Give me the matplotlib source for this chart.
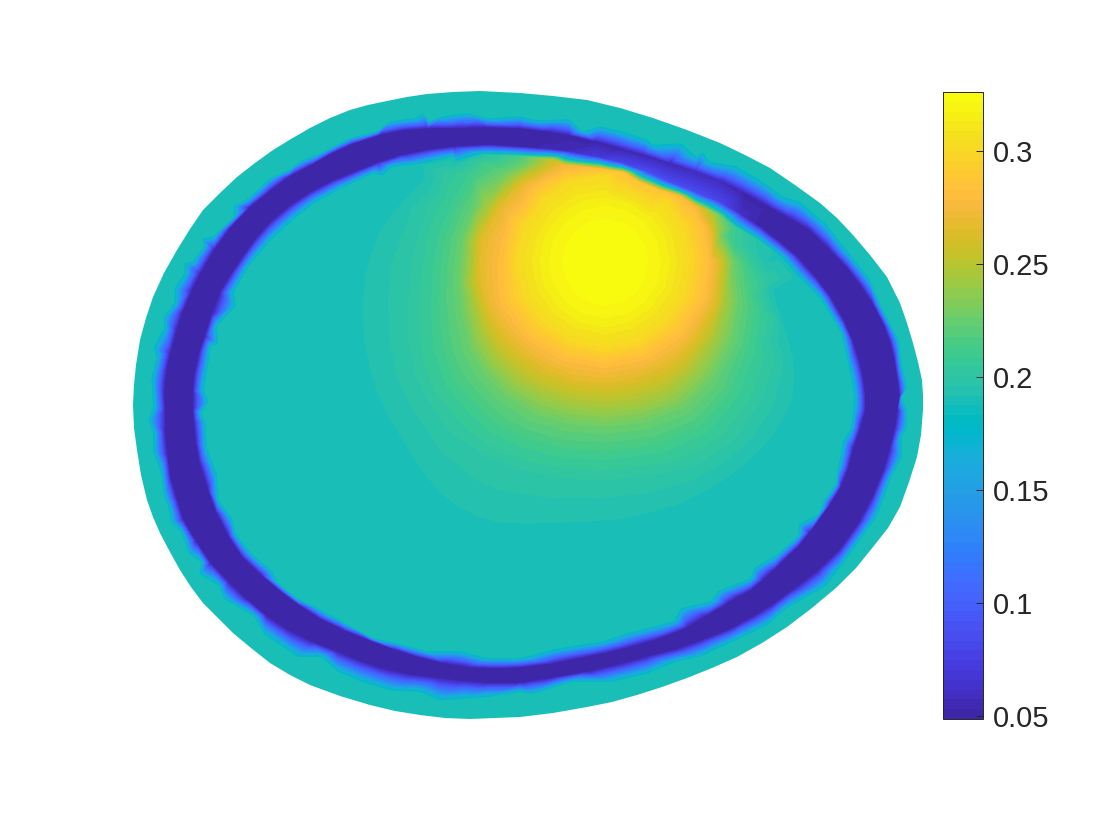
import matplotlib
matplotlib.use("Agg")
import numpy as np
import matplotlib.pyplot as plt
import matplotlib.tri as mtri
from matplotlib.cm import ScalarMappable
from matplotlib.colors import ListedColormap, Normalize
from matplotlib.patches import Polygon

plt.rcParams['font.family'] = ['Liberation Sans', 'DejaVu Sans']

# field values (positions are in picture pixels)
background = 0.19
dark = 0.05
v_min = 0.0487
v_max = 0.3261
cbar_ticks = [0.05, 0.1, 0.15, 0.2, 0.25, 0.3]
cbar_labels = ['0.05', '0.1', '0.15', '0.2', '0.25', '0.3']

outer_edge = [(133,405),(134,385),(136,365),(140,340),(146,318),(153,297),(164,273),(177,250),(190,229),(203,210),
              (220,193),(237,177),(255,163),(273,150),(291,139),(310,128),(330,118),(350,110),(368,105),(387,101),
              (407,97),(427,94),(453,92),(480,91),(500,92),(520,93),(553,96),(587,100),(620,108),(653,118),
              (687,130),(720,143),(745,155),(770,168),(795,185),(820,203),(837,218),(853,235),(870,255),(887,277),
              (900,303),(907,323),(913,343),(918,362),(922,380),(923,395),(923,410),(921,435),(917,457),(909,482),
              (900,507),(888,528),(873,547),(856,568),(837,587),(812,608),(787,627),(762,643),(737,657),(712,668),
              (687,678),(662,687),(637,695),(612,702),(587,707),(553,713),(520,717),(495,718),(470,719),(445,718),
              (420,715),(395,711),(370,705),(340,696),(310,685),(290,675),(270,663),(251,648),(233,633),(203,603),
              (191,587),(180,570),(170,552),(160,533),(153,517),(147,500),(141,475),(137,450),(134,428)]

ring_outer_jagged = [(152,407),(150,380),(155,357),(152,347),(163,327),(162,317),(173,303),(173,288),(183,273),
                     (183,262),(192,260),(203,245),(200,238),(213,235),(232,217),(233,205),(248,197),(268,178),
                     (290,168),(300,160),(320,152),(350,137),(377,130),(390,120),(413,117),(423,112),(430,120),
                     (443,115),(467,112),(487,117),(520,115),(537,119),(570,118),(583,130),(600,125),(623,130),
                     (647,138),(653,143),(683,142),(697,155),(703,150),(710,160),(737,165),(760,178),(783,195),
                     (800,200),(827,223),(850,252),(870,277),(883,307),(900,340),(902,360),(908,387),(903,397),
                     (908,410),(908,427),(903,437),(903,457),(893,477),(878,517),(857,547),(840,570),(827,587),
                     (787,610),(767,627),(733,643),(703,657),(677,663),(648,675),(613,683),(573,683),(533,695),
                     (520,693),(490,698),(467,700),(440,702),(417,693),(390,692),(360,683),(337,673),(320,658),
                     (297,658),(277,645),(263,635),(253,617),(237,608),(223,600),(218,587),(198,575),(200,563),
                     (188,555),(180,533),(170,523),(167,507),(163,498),(160,473),(152,453),(152,433),(147,420)]

ring_dark_out = [(165,410),(164,395),(165,380),(167,366),(170,353),(176,331),(183,310),(191,291),(200,273),(214,249),
                 (230,227),(249,207),(270,190),(289,176),(310,165),(331,153),(353,143),(378,135),(403,130),(428,128),
                 (453,128),(487,127),(520,128),(545,131),(570,135),(595,141),(620,148),(645,155),(670,163),(695,171),
                 (720,180),(745,193),(770,207),(790,218),(810,230),(829,248),(847,267),(861,285),(873,303),(883,322),
                 (890,340),(895,360),(898,380),(900,397),(898,410),(895,430),(890,450),(883,473),(873,497),(858,525),
                 (840,550),(818,571),(793,590),(774,604),(753,617),(729,630),(703,640),(675,650),(647,657),(617,665),
                 (587,672),(553,678),(520,683),(487,683),(462,681),(437,678),(412,675),(387,670),(362,662),(337,652),
                 (312,642),(287,630),(266,616),(247,600),(228,582),(210,563),(196,542),(183,520),(176,498),(170,477),
                 (167,455),(165,433)]

ring_dark_in = [(193,410),(193,391),(195,373),(199,355),(205,337),(212,315),(220,293),(231,275),(243,257),(256,239),
                (270,223),(289,207),(310,193),(331,182),(353,173),(378,163),(403,155),(428,150),(453,147),(487,145),
                (520,147),(545,149),(570,152),(595,157),(620,163),(645,172),(670,183),(695,193),(720,203),(741,215),
                (760,227),(779,242),(797,257),(814,276),(830,297),(843,320),(853,343),(859,362),(863,380),(865,397),
                (865,410),(860,427),(853,447),(848,467),(840,487),(830,503),(820,517),(809,532),(797,547),(785,558),
                (773,570),(762,580),(750,590),(738,596),(727,603),(707,615),(687,627),(670,634),(653,640),(628,647),
                (603,653),(578,658),(553,663),(520,667),(495,668),(470,667),(445,663),(420,657),(395,649),(370,640),
                (345,630),(320,618),(300,605),(280,590),(261,574),(243,557),(229,536),(217,513),(208,488),(200,463),
                (196,441),(194,420)]

ring_inner_jagged = [(203,413),(210,402),(205,390),(208,373),(212,347),(220,345),(218,327),(237,307),(235,293),
                     (250,267),(270,243),(295,220),(317,203),(347,187),(373,175),(383,177),(393,168),(420,165),
                     (453,158),(457,162),(483,155),(520,157),(553,160),(563,165),(603,170),(623,173),(637,182),
                     (657,190),(680,197),(697,207),(717,215),(733,227),(757,240),(780,257),(797,277),(820,300),
                     (840,333),(850,377),(853,397),(852,410),(850,427),(842,440),(837,467),(835,483),(823,500),
                     (818,513),(798,523),(797,535),(777,553),(753,567),(750,577),(717,590),(710,600),(680,607),
                     (673,620),(627,632),(603,640),(553,648),(520,657),(487,657),(462,650),(427,650),(397,642),
                     (373,637),(347,623),(337,617),(320,608),(297,597),(280,583),(273,570),(253,553),(237,533),
                     (233,517),(220,500),(218,473),(208,447),(207,423)]

# where the ring differs from its plain level, near the bright blob
dark_out_levels = {(645,155): 0.052, (670,163): 0.053, (695,171): 0.055, (720,180): 0.056}
dark_in_levels = {(545,149): 0.054, (570,152): 0.058, (595,157): 0.07, (620,163): 0.08, (645,172): 0.085,
                  (670,183): 0.085, (695,193): 0.085, (720,203): 0.08, (741,215): 0.06}
inner_levels = {(483,155): 0.195, (520,157): 0.215, (553,160): 0.255, (563,165): 0.27, (603,170): 0.285,
                (623,173): 0.285, (637,182): 0.285, (657,190): 0.285, (680,197): 0.28, (697,207): 0.27,
                (717,215): 0.235, (733,227): 0.21, (757,240): 0.195}

# contour lines of the bright blob: (level, points)
blob_peak = (605, 262, 0.3255)
blob_contours = [
    (0.325, [(638,262),(635,275),(628,285),(618,292),(605,295),(592,292),(582,285),(575,275),(572,262),
             (575,249),(582,239),(592,232),(605,229),(618,232),(628,239),(635,249)]),
    (0.316, [(665,262),(660,285),(647,304),(628,317),(605,322),(582,317),(563,304),(550,285),(545,262),
             (550,239),(563,220),(582,207),(605,202),(628,207),(647,220),(660,239)]),
    (0.3, [(690,262),(684,296),(665,322),(638,341),(605,348),(571,341),(543,322),(524,296),(517,262),
           (524,228),(543,200),(571,181),(605,176),(667,202),(684,228)]),
    (0.282, [(708,262),(702,298),(680,332),(645,355),(605,363),(565,356),(530,335),(505,302),(503,270),
             (507,240),(523,207),(543,183),(573,172),(703,228),(695,214)]),
    (0.265, [(712,232),(718,262),(715,300),(697,335),(668,365),(635,378),(605,383),(575,380),(545,369),
             (520,351),(500,330),(487,305),(481,280),(480,262),(482,240),(500,207),(523,183),(548,170)]),
    (0.245, [(716,232),(726,262),(724,300),(712,340),(690,372),(665,392),(635,402),(605,405),(575,402),
             (545,393),(518,378),(497,358),(483,333),(475,303),(472,262),(473,240),(489,207),(516,178),(540,165)]),
    (0.225, [(722,235),(734,262),(738,300),(732,340),(712,380),(685,408),(645,423),(605,428),(570,425),
             (535,415),(507,398),(485,375),(470,350),(462,315),(459,285),(460,262),(462,240),(475,207),
             (505,173),(525,164)]),
    (0.21, [(733,245),(750,270),(758,310),(752,350),(735,395),(705,430),(660,450),(605,457),(565,455),
            (525,445),(493,430),(470,408),(450,385),(437,350),(434,310),(436,270),(440,240),(453,207),
            (473,173),(483,163)]),
    (0.2, [(748,248),(768,280),(775,320),(775,360),(762,400),(735,440),(700,463),(655,475),(605,480),
           (560,478),(520,470),(483,455),(450,432),(430,405),(415,375),(408,340),(408,300),(412,262),
           (417,240),(427,207),(443,173)]),
    (0.1918, [(368,307),(369,290),(370,273),(376,252),(383,233),(396,213),(410,197),(426,180),
              (369,325),(370,340),(376,365),(383,387),(395,412),(410,437),(421,455),(433,473),(445,488),
              (460,500),(480,511),(500,517),(533,518),(567,517),(597,516),(627,513),(652,507),(677,500),
              (702,488),(727,473),(750,454),(770,433),(783,413),(790,393),(791,375),(790,357),(784,335),
              (777,313),(771,290),(766,262)]),
]

# parula, 64 steps
parula = [
    (0.2422,0.1504,0.6603),(0.2504,0.1650,0.7076),(0.2578,0.1818,0.7511),(0.2647,0.1978,0.7952),
    (0.2706,0.2147,0.8364),(0.2751,0.2342,0.8710),(0.2783,0.2559,0.8991),(0.2803,0.2782,0.9221),
    (0.2813,0.3006,0.9414),(0.2810,0.3228,0.9579),(0.2795,0.3447,0.9717),(0.2760,0.3667,0.9829),
    (0.2699,0.3892,0.9906),(0.2602,0.4123,0.9952),(0.2440,0.4358,0.9988),(0.2206,0.4603,0.9973),
    (0.1963,0.4847,0.9892),(0.1834,0.5074,0.9798),(0.1786,0.5289,0.9682),(0.1764,0.5499,0.9520),
    (0.1687,0.5703,0.9359),(0.1540,0.5902,0.9218),(0.1460,0.6091,0.9079),(0.1380,0.6276,0.8973),
    (0.1248,0.6459,0.8883),(0.1113,0.6635,0.8763),(0.0952,0.6798,0.8598),(0.0689,0.6948,0.8394),
    (0.0297,0.7082,0.8163),(0.0036,0.7203,0.7917),(0.0067,0.7312,0.7660),(0.0433,0.7411,0.7394),
    (0.0964,0.7500,0.7120),(0.1408,0.7584,0.6842),(0.1717,0.7670,0.6554),(0.1938,0.7758,0.6251),
    (0.2161,0.7843,0.5923),(0.2470,0.7918,0.5567),(0.2906,0.7973,0.5188),(0.3406,0.8008,0.4789),
    (0.3909,0.8029,0.4354),(0.4456,0.8024,0.3909),(0.5044,0.7993,0.3480),(0.5616,0.7942,0.3045),
    (0.6174,0.7876,0.2612),(0.6720,0.7793,0.2227),(0.7242,0.7698,0.1910),(0.7738,0.7598,0.1646),
    (0.8203,0.7498,0.1535),(0.8634,0.7406,0.1596),(0.9035,0.7330,0.1774),(0.9393,0.7288,0.2100),
    (0.9728,0.7298,0.2394),(0.9956,0.7434,0.2371),(0.9970,0.7659,0.2199),(0.9952,0.7861,0.1990),
    (0.9892,0.8086,0.1706),(0.9786,0.8329,0.1514),(0.9676,0.8568,0.1337),(0.9610,0.8792,0.1119),
    (0.9598,0.9061,0.0967),(0.9628,0.9373,0.0785),(0.9691,0.9606,0.0659),(0.9763,0.9831,0.0538),
]
cmap = ListedColormap(parula)
norm = Normalize(v_min, v_max)
levels = np.linspace(v_min, v_max, 65)


def stitch(a, b, off_a, off_b):
    # triangles between two closed curves running the same way round
    a = np.array(a + a[:1], dtype=float)
    b = np.array(b + b[:1], dtype=float)
    na, nb = len(a) - 1, len(b) - 1
    i = j = 0
    tris = []
    while i < na or j < nb:
        step_a = np.hypot(*(a[i + 1] - b[j])) if i < na else np.inf
        step_b = np.hypot(*(a[i] - b[j + 1])) if j < nb else np.inf
        ia, ja = off_a + i % na, off_b + j % nb
        if step_a <= step_b:
            tris.append((ia, off_a + (i + 1) % na, ja))
            i += 1
        else:
            tris.append((ia, off_b + (j + 1) % nb, ja))
            j += 1
    return tris


fig = plt.figure(figsize=(11.2, 8.4), dpi=100)
ax = fig.add_axes([0, 0, 1, 1])
ax.set_xlim(0, 1120)
ax.set_ylim(840, 0)
ax.axis('off')

# head shape, flat level
ax.add_patch(Polygon(outer_edge, closed=True, facecolor=cmap(norm(background)), edgecolor='none'))

# interior with the blob, cut to the inner edge of the ring
blob = {p: inner_levels.get(p, background) for p in ring_inner_jagged}
for level, pts in blob_contours:
    for p in pts:
        blob[p] = level
blob[blob_peak[:2]] = blob_peak[2]
bx = np.array([p[0] for p in blob], dtype=float)
by = np.array([p[1] for p in blob], dtype=float)
cs_blob = ax.tricontourf(bx, by, np.array(list(blob.values())), levels=levels, cmap=cmap, norm=norm)
cs_blob.set_edgecolor('face')
cs_blob.set_linewidth(0.3)
inner_clip = Polygon(ring_inner_jagged, closed=True, facecolor='none', edgecolor='none')
ax.add_patch(inner_clip)
cs_blob.set_clip_path(inner_clip)

# ring, triangles stitched between its four edges
curves = [ring_outer_jagged, ring_dark_out, ring_dark_in, ring_inner_jagged]
curve_levels = [[background] * len(ring_outer_jagged),
                [dark_out_levels.get(p, dark) for p in ring_dark_out],
                [dark_in_levels.get(p, dark) for p in ring_dark_in],
                [inner_levels.get(p, background) for p in ring_inner_jagged]]
offsets = np.cumsum([0] + [len(c) for c in curves])
rx = np.array([p[0] for c in curves for p in c], dtype=float)
ry = np.array([p[1] for c in curves for p in c], dtype=float)
rv = np.array([v for c in curve_levels for v in c])
tris = []
for k in range(3):
    tris += stitch(curves[k], curves[k + 1], offsets[k], offsets[k + 1])
ring_tri = mtri.Triangulation(rx, ry, np.array(tris))
cs_ring = ax.tricontourf(ring_tri, rv, levels=levels, cmap=cmap, norm=norm)
cs_ring.set_edgecolor('face')
cs_ring.set_linewidth(0.3)

# Colorbar
cax = fig.add_axes([943 / 1120, 1 - 719 / 840, 40 / 1120, 627 / 840])
cb = fig.colorbar(ScalarMappable(norm=norm, cmap=cmap), cax=cax)
cb.set_ticks(cbar_ticks)
cb.set_ticklabels(cbar_labels)
cb.ax.tick_params(direction='in', length=5, width=0.7, color='#262626', labelcolor='#262626',
                  labelsize=21, pad=7)
cb.outline.set_edgecolor('#262626')
cb.outline.set_linewidth(0.7)

fig.savefig('out.png', dpi=100, facecolor='white')
